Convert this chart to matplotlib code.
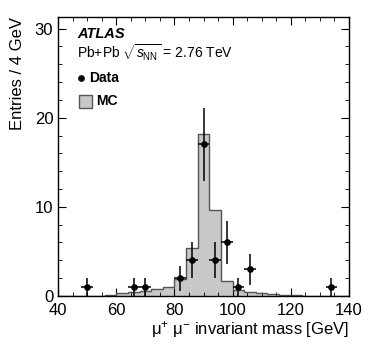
import matplotlib
matplotlib.use("Agg")
import matplotlib.pyplot as plt
import numpy as np
from matplotlib.patches import Rectangle
from matplotlib.ticker import MultipleLocator

plt.rcParams.update({
    "font.family": ["Liberation Sans", "DejaVu Sans"],
    "mathtext.fontset": "custom",
    "mathtext.rm": "Liberation Sans",
    "mathtext.it": "Liberation Sans:italic",
    "mathtext.bf": "Liberation Sans:bold",
})

# 4 GeV bins from 40 to 140
bin_edges = np.arange(40, 141, 4)
mc_counts = [0, 0, 0, 0, 0.1, 0.35, 0.5, 0.55, 0.75, 1.0, 1.9, 5.4, 18.2,
             9.7, 1.7, 0.65, 0.45, 0.3, 0.2, 0.12, 0.08, 0.05, 0.03, 0.02, 0.01]

data_mass = [50, 66, 70, 82, 86, 90, 94, 98, 102, 106, 134]
data_counts = [1, 1, 1, 2, 4, 17, 4, 6, 1, 3, 1]

MC_FILL = "#c8c8c8"
MC_EDGE = "#555555"

fig = plt.figure(figsize=(3.68, 3.53), dpi=100)
ax = fig.add_axes([0.158, 0.1615, 0.79, 0.7905])

ax.stairs(mc_counts, bin_edges, fill=True, color=MC_FILL, zorder=1)
ax.stairs(mc_counts, bin_edges, color=MC_EDGE, lw=1.0, zorder=2)

yerr = np.sqrt(data_counts)
ax.errorbar(data_mass, data_counts, xerr=2, yerr=yerr, fmt="o", color="black",
            ms=3.8, elinewidth=1.1, capsize=0, zorder=3)

ax.set_xlim(40, 140)
ax.set_ylim(0, 31.3)
ax.xaxis.set_major_locator(MultipleLocator(20))
ax.xaxis.set_minor_locator(MultipleLocator(5))
ax.yaxis.set_major_locator(MultipleLocator(10))
ax.yaxis.set_minor_locator(MultipleLocator(2))
ax.tick_params(which="both", direction="in", top=True, right=True, labelsize=12)
ax.tick_params(which="major", length=6)
ax.tick_params(which="minor", length=3)
ax.tick_params(axis="x", pad=5)
for s in ax.spines.values():
    s.set_linewidth(1.0)

ax.set_xlabel("μ$^{+}$ μ$^{-}$ invariant mass [GeV]", fontsize=12, loc="right",
              labelpad=1)
ax.set_ylabel("Entries / 4 GeV", fontsize=12, loc="top", labelpad=7)

ax.text(0.065, 0.94, "ATLAS", transform=ax.transAxes, fontsize=10.5,
        fontweight="bold", fontstyle="italic", va="center")
ax.text(0.064, 0.872, r"Pb+Pb $\sqrt{s_{\mathrm{NN}}}$ = 2.76 TeV",
        transform=ax.transAxes, fontsize=10, va="center")

ax.plot([0.08], [0.781], "o", color="black", ms=3.8, transform=ax.transAxes)
ax.text(0.105, 0.781, "Data", transform=ax.transAxes, fontsize=10,
        fontweight="bold", va="center")
ax.add_patch(Rectangle((0.072, 0.674), 0.045, 0.048, transform=ax.transAxes,
                       facecolor=MC_FILL, edgecolor=MC_EDGE, lw=1.0))
ax.text(0.13, 0.699, "MC", transform=ax.transAxes, fontsize=10,
        fontweight="bold", va="center")

fig.savefig("out.png", dpi=100)
